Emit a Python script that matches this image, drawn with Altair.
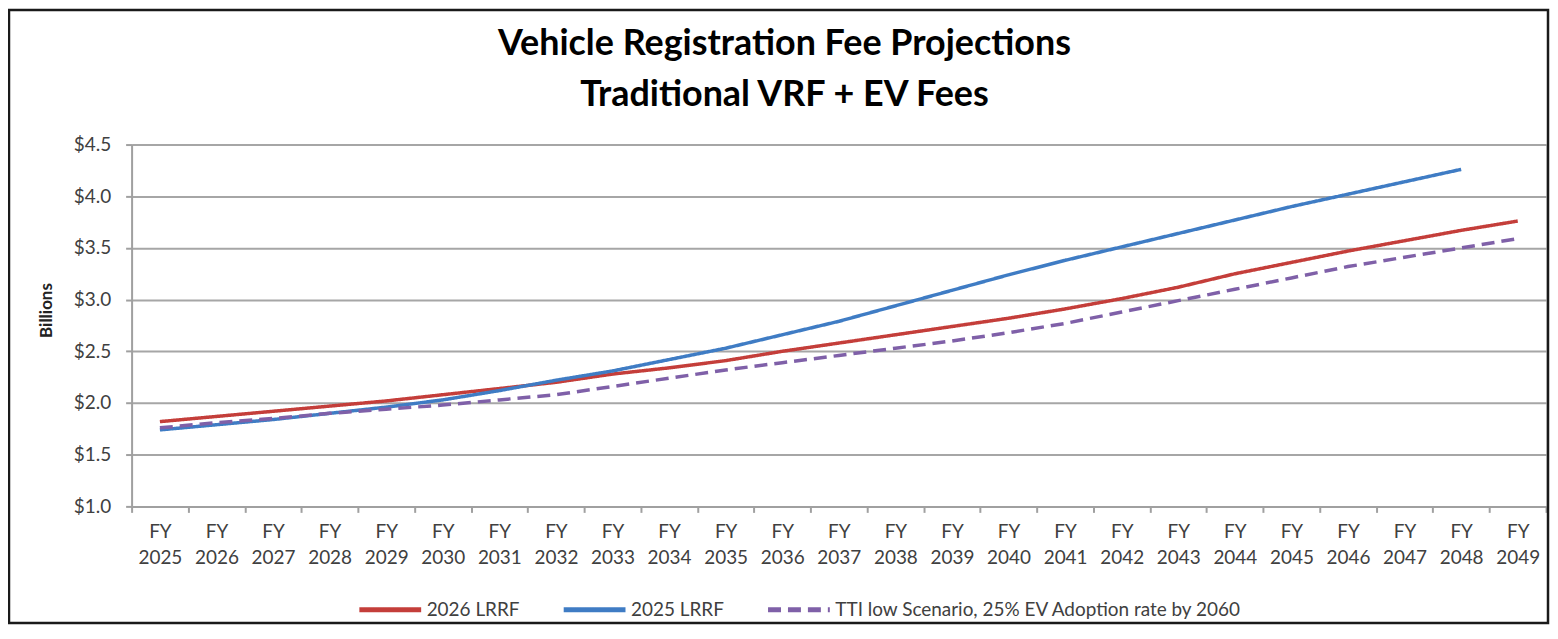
import altair as alt
import pandas as pd

years = ["FY 2025", "FY 2026", "FY 2027", "FY 2028", "FY 2029", "FY 2030", "FY 2031",
         "FY 2032", "FY 2033", "FY 2034", "FY 2035", "FY 2036", "FY 2037", "FY 2038",
         "FY 2039", "FY 2040", "FY 2041", "FY 2042", "FY 2043", "FY 2044", "FY 2045",
         "FY 2046", "FY 2047", "FY 2048", "FY 2049"]

lrrf_2026 = [1.82, 1.87, 1.92, 1.97, 2.02, 2.08, 2.14, 2.20, 2.28, 2.34, 2.41, 2.50, 2.58,
             2.66, 2.74, 2.82, 2.91, 3.01, 3.12, 3.25, 3.36, 3.47, 3.57, 3.67, 3.76]
lrrf_2025 = [1.74, 1.79, 1.84, 1.90, 1.96, 2.03, 2.12, 2.22, 2.31, 2.42, 2.53, 2.66, 2.79,
             2.94, 3.09, 3.24, 3.38, 3.51, 3.64, 3.77, 3.90, 4.02, 4.14, 4.26]
tti_low = [1.76, 1.81, 1.85, 1.90, 1.94, 1.98, 2.03, 2.08, 2.16, 2.24, 2.32, 2.39, 2.46,
           2.53, 2.60, 2.68, 2.77, 2.88, 2.99, 3.10, 3.21, 3.32, 3.41, 3.50, 3.59]

series_names = ["2026 LRRF", "2025 LRRF", "TTI low  Scenario, 25% EV Adoption rate by 2060"]
series_colors = ["#C43E3A", "#3F7CC4", "#7F60A8"]
series_dashes = [[1, 0], [1, 0], [13, 7]]

title_lines = ["Vehicle Registration Fee Projections", "Traditional VRF + EV Fees"]

rows = []
for name, vals in zip(series_names, [lrrf_2026, lrrf_2025, tti_low]):
    for yr, v in zip(years, vals):
        rows.append({"year": yr, "value": v, "series": name})
df = pd.DataFrame(rows)

FONT = "Lato"
W, H = 1419, 363

lines = alt.Chart(df).mark_line(strokeWidth=3.5, clip=False).encode(
    x=alt.X("year:N", sort=years, bandPosition=0.5,
            scale=alt.Scale(type="band", paddingInner=0, paddingOuter=0),
            axis=alt.Axis(title=None, labelAngle=0, tickBand="extent",
                          labelExpr="split(datum.label, ' ')",
                          labelFont=FONT, labelFontSize=19, labelColor="#404040",
                          labelLineHeight=26, labelPadding=10, labelBaseline="top",
                          tickSize=6, tickColor="#a0a0a0", tickWidth=2,
                          domainColor="#a0a0a0", domainWidth=2, grid=False)),
    y=alt.Y("value:Q",
            scale=alt.Scale(domain=[1.0, 4.5], nice=False, zero=False),
            axis=alt.Axis(title="Billions", values=[1.0, 1.5, 2.0, 2.5, 3.0, 3.5, 4.0, 4.5],
                          format="$.1f", labelFont=FONT, labelFontSize=19,
                          labelColor="#404040", labelPadding=15,
                          tickSize=6, tickColor="#a0a0a0", tickWidth=2,
                          domainColor="#a0a0a0", domainWidth=2,
                          grid=True, gridColor="#a6a6a6", gridWidth=2,
                          titleFont=FONT, titleFontSize=17, titleFontWeight="bold",
                          titleColor="#222222", titleX=-85, titleY=166,
                          titleAngle=-90, titleBaseline="middle", titleAlign="center")),
    color=alt.Color("series:N", sort=series_names,
                    scale=alt.Scale(domain=series_names, range=series_colors),
                    legend=alt.Legend(title=None, orient="none", direction="horizontal",
                                      legendX=226, legendY=433, padding=0,
                                      symbolType="stroke", symbolSize=3844,
                                      symbolStrokeWidth=5, labelOffset=3,
                                      columnPadding=33, labelFont=FONT,
                                      labelFontSize=19, labelColor="#404040",
                                      labelLimit=600)),
    strokeDash=alt.StrokeDash("series:N", sort=series_names,
                              scale=alt.Scale(domain=series_names, range=series_dashes),
                              legend=None),
    order=alt.Order("year:N"),
)

border = alt.Chart(pd.DataFrame({"a": [0]})).mark_rect(
    fill=None, stroke="#1a1a1a", strokeWidth=2.5, clip=False
).encode(
    x=alt.value(-123), x2=alt.value(W + 2),
    y=alt.value(-135), y2=alt.value(480),
)

title1 = alt.Chart(pd.DataFrame({"t": [title_lines[0]]})).mark_text(
    font=FONT, fontSize=36, fontWeight="bold", color="#000000",
    align="center", baseline="alphabetic", clip=False
).encode(text="t:N", x=alt.value(655), y=alt.value(-90))

title2 = alt.Chart(pd.DataFrame({"t": [title_lines[1]]})).mark_text(
    font=FONT, fontSize=36, fontWeight="bold", color="#000000",
    align="center", baseline="alphabetic", clip=False
).encode(text="t:N", x=alt.value(655), y=alt.value(-39))

chart = alt.layer(border, title1, title2, lines).properties(
    width=W, height=H,
    autosize=alt.AutoSizeParams(type="none"),
    padding={"left": 124, "top": 136, "right": 4, "bottom": 119},
).configure_view(stroke=None).configure(background="white")

chart.save("out.html", embed_options={"renderer": "svg", "actions": False})
